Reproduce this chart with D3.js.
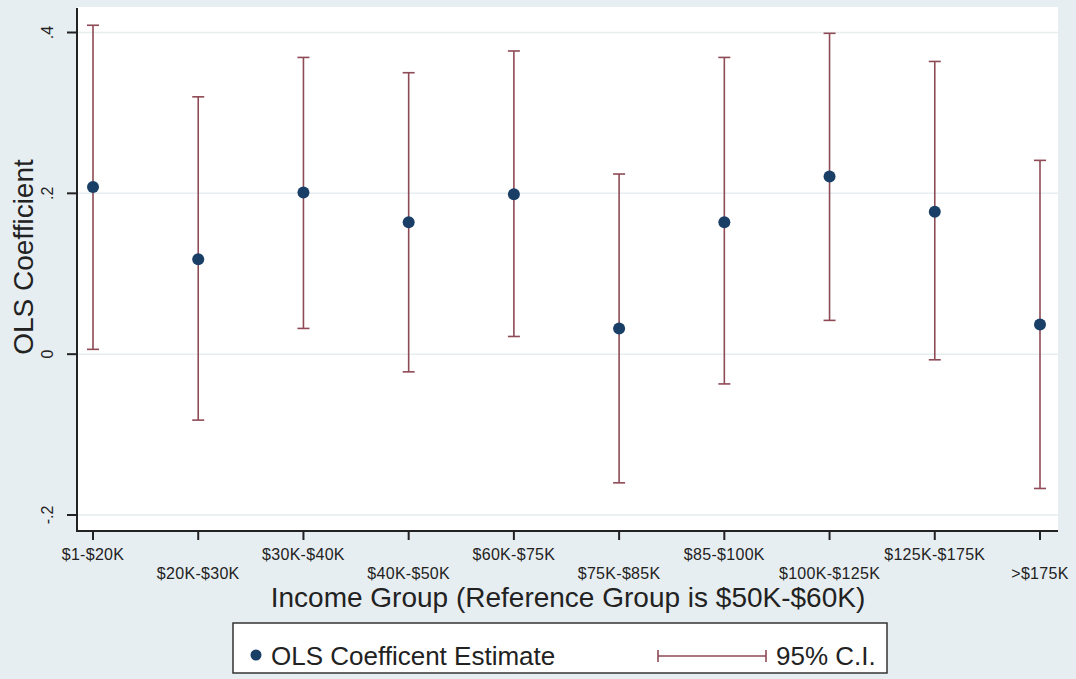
<!DOCTYPE html>
<html>
<head>
<meta charset="utf-8">
<script src="https://cdn.jsdelivr.net/npm/d3@7"></script>
<style>
  html, body { margin: 0; padding: 0; background: #e7eef1; overflow: hidden; }
  svg { display: block; }
  text { font-family: "Liberation Sans", Arial, sans-serif; }
</style>
</head>
<body>
<svg id="chart" width="1076" height="679"></svg>
<script>
// Income groups (reference group $50K-$60K omitted)
const categories = ["$1-$20K", "$20K-$30K", "$30K-$40K", "$40K-$50K", "$60K-$75K",
                    "$75K-$85K", "$85-$100K", "$100K-$125K", "$125K-$175K", ">$175K"];
// OLS coefficient estimates
const estimates = [0.208, 0.118, 0.201, 0.164, 0.199, 0.032, 0.164, 0.221, 0.177, 0.037];
// 95% confidence interval bounds
const ciLower = [0.006, -0.082, 0.032, -0.022, 0.022, -0.160, -0.037, 0.042, -0.007, -0.167];
const ciUpper = [0.409, 0.320, 0.369, 0.350, 0.377, 0.224, 0.369, 0.399, 0.364, 0.241];
// y-axis ticks
const yTicks = [-0.2, 0, 0.2, 0.4];
const yTickLabels = ["-.2", "0", ".2", ".4"];

const svg = d3.select("#chart");
const plot = { left: 77, right: 1058, top: 7, bottom: 531 };

const x = d3.scalePoint()
  .domain(categories)
  .range([93, 1040]);

const y = d3.scaleLinear()
  .domain([-0.2, 0.4])
  .range([515, 32.5]);

// plot region
svg.append("rect")
  .attr("x", plot.left).attr("y", plot.top)
  .attr("width", plot.right - plot.left).attr("height", plot.bottom - plot.top)
  .attr("fill", "#ffffff");

// horizontal grid lines
svg.append("g").selectAll("line")
  .data(yTicks).join("line")
  .attr("x1", plot.left).attr("x2", plot.right)
  .attr("y1", d => y(d)).attr("y2", d => y(d))
  .attr("stroke", "#e6eef0").attr("stroke-width", 1.5);

// confidence intervals
const ciColor = "#8e4a55";
const ci = svg.append("g");
categories.forEach((c, i) => {
  const cx = x(c);
  ci.append("line")
    .attr("x1", cx).attr("x2", cx)
    .attr("y1", y(ciLower[i])).attr("y2", y(ciUpper[i]))
    .attr("stroke", ciColor).attr("stroke-width", 1.6);
  [ciLower[i], ciUpper[i]].forEach(v => {
    ci.append("line")
      .attr("x1", cx - 6).attr("x2", cx + 6)
      .attr("y1", y(v)).attr("y2", y(v))
      .attr("stroke", ciColor).attr("stroke-width", 1.6);
  });
});

// point estimates
svg.append("g").selectAll("circle")
  .data(categories).join("circle")
  .attr("cx", d => x(d))
  .attr("cy", (d, i) => y(estimates[i]))
  .attr("r", 6)
  .attr("fill", "#1a3f66");

// y axis
const yAxis = svg.append("g").attr("transform", `translate(${plot.left},0)`);
yAxis.append("line")
  .attr("x1", 0).attr("x2", 0).attr("y1", plot.top + 1).attr("y2", plot.bottom + 1)
  .attr("stroke", "#222").attr("stroke-width", 2);
yTicks.forEach((t, i) => {
  yAxis.append("line")
    .attr("x1", -10).attr("x2", 0).attr("y1", y(t)).attr("y2", y(t))
    .attr("stroke", "#222").attr("stroke-width", 2);
  yAxis.append("text")
    .attr("transform", `translate(-24,${y(t)}) rotate(-90)`)
    .attr("text-anchor", "middle")
    .attr("font-size", 16)
    .attr("fill", "#222")
    .text(yTickLabels[i]);
});

// x axis
const xAxis = svg.append("g").attr("transform", `translate(0,${plot.bottom})`);
xAxis.append("line")
  .attr("x1", plot.left - 1).attr("x2", plot.right)
  .attr("y1", 0).attr("y2", 0)
  .attr("stroke", "#222").attr("stroke-width", 2);
categories.forEach((c, i) => {
  xAxis.append("line")
    .attr("x1", x(c)).attr("x2", x(c)).attr("y1", 0).attr("y2", 9)
    .attr("stroke", "#222").attr("stroke-width", 2);
  xAxis.append("text")
    .attr("x", x(c))
    .attr("y", i % 2 === 0 ? 29 : 48)
    .attr("text-anchor", "middle")
    .attr("font-size", 16)
    .attr("letter-spacing", 0.3)
    .attr("fill", "#222")
    .text(c);
});

// axis titles
svg.append("text")
  .attr("x", 568).attr("y", 607)
  .attr("text-anchor", "middle")
  .attr("font-size", 28)
  .attr("fill", "#222")
  .text("Income Group (Reference Group is $50K-$60K)");

svg.append("text")
  .attr("transform", "translate(33,257) rotate(-90)")
  .attr("text-anchor", "middle")
  .attr("font-size", 28)
  .attr("fill", "#222")
  .text("OLS Coefficient");

// legend
const legend = svg.append("g");
legend.append("rect")
  .attr("x", 233).attr("y", 623).attr("width", 654).attr("height", 50)
  .attr("fill", "#ffffff").attr("stroke", "#333").attr("stroke-width", 1.5);
legend.append("circle")
  .attr("cx", 256).attr("cy", 655).attr("r", 5.5).attr("fill", "#1a3f66");
legend.append("text")
  .attr("x", 271).attr("y", 665)
  .attr("font-size", 26).attr("fill", "#222")
  .text("OLS Coefficent Estimate");
legend.append("line")
  .attr("x1", 658).attr("x2", 766).attr("y1", 656).attr("y2", 656)
  .attr("stroke", ciColor).attr("stroke-width", 1.6);
[658, 766].forEach(lx => {
  legend.append("line")
    .attr("x1", lx).attr("x2", lx).attr("y1", 650).attr("y2", 662)
    .attr("stroke", ciColor).attr("stroke-width", 1.6);
});
legend.append("text")
  .attr("x", 776).attr("y", 665)
  .attr("font-size", 26).attr("fill", "#222")
  .text("95% C.I.");
</script>
</body>
</html>
